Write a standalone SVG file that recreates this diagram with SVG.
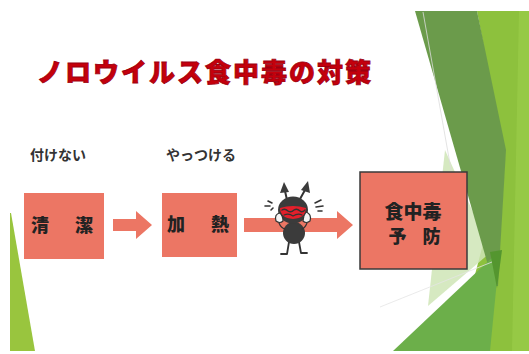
<svg xmlns="http://www.w3.org/2000/svg" width="529" height="354" viewBox="0 0 529 354">
  <style>
    .box { fill: #ec7664; }
    .goal { fill: #ec7664; stroke: #3a3a3a; stroke-width: 1.5; }
    .lbl { font-family: "Noto Sans CJK JP", "Noto Sans", sans-serif; font-weight: 900; fill: #222; }
    .cap { font-family: "Noto Sans CJK JP", "Noto Sans", sans-serif; font-weight: 700; fill: #333; font-size: 14px; }
    .title { font-family: "Noto Sans CJK JP", "Noto Sans", sans-serif; font-weight: 900; font-size: 26px; fill: #c4000c; stroke: #9c0010; stroke-width: 0.8px; letter-spacing: 2px; }
    .arrow { fill: #ec7664; }
    .ink { fill: #3b3b3b; }
    .line { fill: none; stroke: #333; stroke-linecap: round; stroke-linejoin: round; }
  </style>

  <rect width="529" height="354" fill="#ffffff"/>

  <!-- theme decoration: left sliver -->
  <polygon points="10,213 11,213 35,351 10,351" fill="#99c53e"/>

  <!-- theme decoration: right facets -->
  <g id="facets">
    <polygon points="477,11 529,11 529,351 455,351 505,160" fill="#8dc13d"/>
    <polygon points="519,11 529,11 529,351 512,351" fill="#98ca47" opacity="0.8"/>
    <polygon points="445,150 491,252 428,306" fill="#cfe5b6" opacity="0.85"/>
    <polygon points="415,11 477,11 506,150 498,286 494,286" fill="#6b9b4b"/>
    <polygon points="393,351 500,250 490,351" fill="#6caf4a"/>
    <polygon points="490,252 502,250 497,288" fill="#54962f"/>
    <line x1="423" y1="12" x2="452" y2="175" stroke="#dcdcdc" stroke-width="0.8"/>
    <line x1="380" y1="307" x2="492" y2="262" stroke="#e4e4e4" stroke-width="0.8"/>
  </g>

  <!-- title -->
  <text class="title" x="37" y="82">ノロウイルス食中毒の対策</text>

  <!-- captions -->
  <text class="cap" x="30" y="160">付けない</text>
  <text class="cap" x="166" y="160">やっつける</text>

  <!-- connectors -->
  <g id="connectors">
    <polygon class="arrow" points="113,219 136,219 136,211 152,225 136,239 136,231 113,231"/>
    <polygon class="arrow" points="244,218 337,218 337,211 353,225 337,239 337,232 244,232"/>
  </g>

  <!-- nodes -->
  <g id="node-seiketsu">
    <rect class="box" x="24" y="193" width="80" height="66"/>
    <text class="lbl" x="64" y="232" font-size="18" text-anchor="middle" letter-spacing="4">清　潔</text>
  </g>

  <g id="node-kanetsu">
    <rect class="box" x="162" y="193" width="75" height="64"/>
    <text class="lbl" x="200" y="231" font-size="18" text-anchor="middle" letter-spacing="4">加　熱</text>
  </g>

  <g id="node-yobou">
    <rect class="goal" x="360" y="172" width="107" height="97"/>
    <text class="lbl" x="413" y="219" font-size="19" text-anchor="middle">食中毒</text>
    <text class="lbl" x="414" y="243" font-size="18" text-anchor="middle" letter-spacing="-1">予　防</text>
  </g>

  <!-- crying germ character -->
  <g id="germ">
    <path class="line" d="M287 200 L285 191 M300 199 L305 190" stroke-width="2"/>
    <polygon class="ink" points="280,193 284,182 289,192"/>
    <polygon class="ink" points="301,190 308,181 310,193"/>
    <path class="line" d="M289 242 L287 254 L281 254 M299 242 L301 253 L307 253" stroke-width="1.8"/>
    <ellipse class="ink" cx="294" cy="233" rx="11" ry="11"/>
    <ellipse class="ink" cx="293" cy="210" rx="15" ry="13.5"/>
    <path d="M280 208 Q293 204 306 208 Q306 218 293 219 Q280 218 280 208Z" fill="#e41f2b"/>
    <path class="line" d="M282 210 Q285 208 288 211 Q291 213 294 210 Q297 208 300 211 Q302 213 305 210" stroke-width="1.4"/>
    <path class="line" d="M284 215 Q289 213 293 216 Q298 213 302 215" stroke-width="1.2"/>
    <path d="M276 221 Q274 214 280 213 Q283 216 283 221 Q280 224 276 221Z" fill="#f4f4f4" stroke="#333" stroke-width="1.2"/>
    <path d="M310 221 Q312 214 306 212 Q303 216 303 221 Q306 224 310 221Z" fill="#f4f4f4" stroke="#333" stroke-width="1.2"/>
    <path class="line" d="M279 223 Q281 228 285 229 M307 223 Q305 228 302 229" stroke-width="1.2"/>
    <path class="line" d="M265 206 L270 206 M268 201 L272 203 M271 210 L273 208" stroke="#555" stroke-width="1.6"/>
    <path class="line" d="M315 203 L321 200 M316 207 L323 206 M318 211 L322 211" stroke="#555" stroke-width="1.6"/>
  </g>
</svg>
